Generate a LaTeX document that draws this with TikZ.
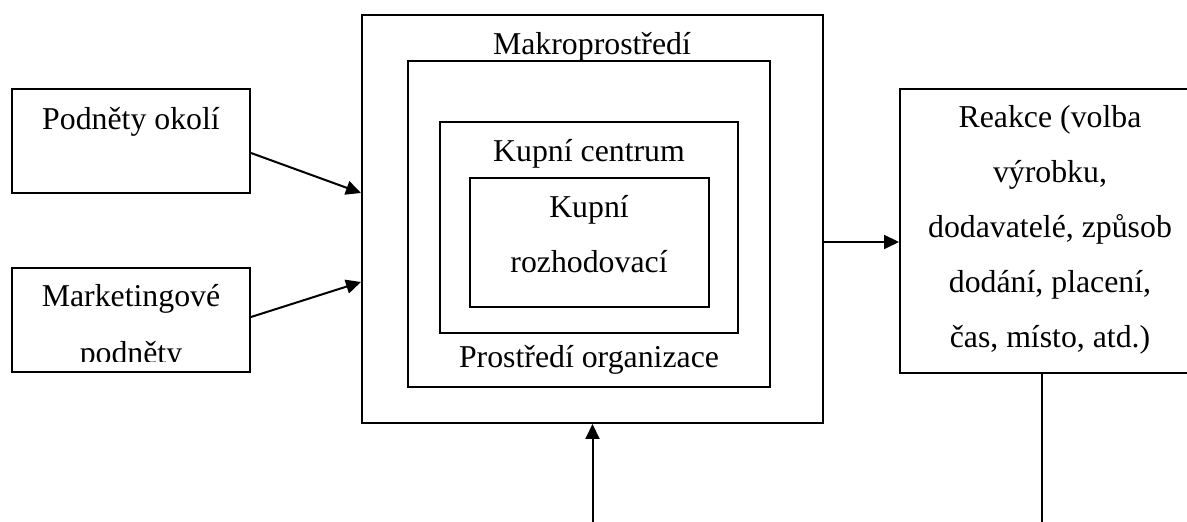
\documentclass[tikz,border=0pt]{standalone}
\usepackage{fontspec}
\setmainfont{Liberation Serif}
\usetikzlibrary{fit,arrows.meta}
\tikzset{
  frame/.style={draw, line width=1pt, inner sep=0pt},
  % base anchor sits on the baseline of the last line
  label/.style={inner sep=0pt, anchor=base, align=center, font=\fontsize{15.9}{27.5}\selectfont},
  arrow/.style={line width=1pt, -{Triangle[length=7.5pt,width=7pt]}},
  plain/.style={line width=1pt},
}
\begin{document}
\begin{tikzpicture}[x=0.5pt,y=-0.5pt]
\useasboundingbox (0,0) rectangle (1187,522);

% left input boxes
\node[frame, fit={(12,89) (250,193)}] (okoli) {};
\node[label] (okoliT) at (131,130) {Podněty okolí};
\node[frame, fit={(12,268) (250,372)}] (mkt) {};
\begin{scope}
  \clip (12,268) rectangle (250,362);
  \node[label, font=\fontsize{15.9}{28.5}\selectfont] (mktT) at (131,364) {Marketingové\\podněty};
\end{scope}

% nested environment frames
\node[frame, fit={(362,15) (823,423)}] (makro) {};
\node[frame, fit={(408,61) (770,387)}] (org) {};
\node[frame, fit={(440,122) (738,333)}] (centrum) {};
\node[frame, fit={(470,178) (709,307)}] (rozhod) {};
\node[label] (makroT) at (592,55) {Makroprostředí};
\node[label] (centrumT) at (589,162) {Kupní centrum};
\node[label] (rozhodT) at (589,273) {Kupní\\rozhodovací};
\node[label] (orgT) at (589,368) {Prostředí organizace};

% response box
\node[frame, fit={(900,89) (1200,373)}] (reakce) {};
\node[label] (reakceT) at (1050,348) {Reakce (volba\\výrobku,\\dodavatelé, způsob\\dodání, placení,\\čas, místo, atd.)};

% connectors
\coordinate (bottomIn) at (592.5,522);
\coordinate (bottomOut) at (1042,522);
\draw[arrow] (okoli.east |- 0,153) -- (makro.west |- 0,193);
\draw[arrow] (mkt.east |- 0,317) -- (makro.west |- 0,282);
\draw[arrow] (makro.east |- 0,242) -- (reakce.west |- 0,242);
\draw[arrow] (bottomIn) -- (makro.south);
\draw[plain] (reakce.south -| bottomOut) -- (bottomOut);
\end{tikzpicture}
\end{document}
